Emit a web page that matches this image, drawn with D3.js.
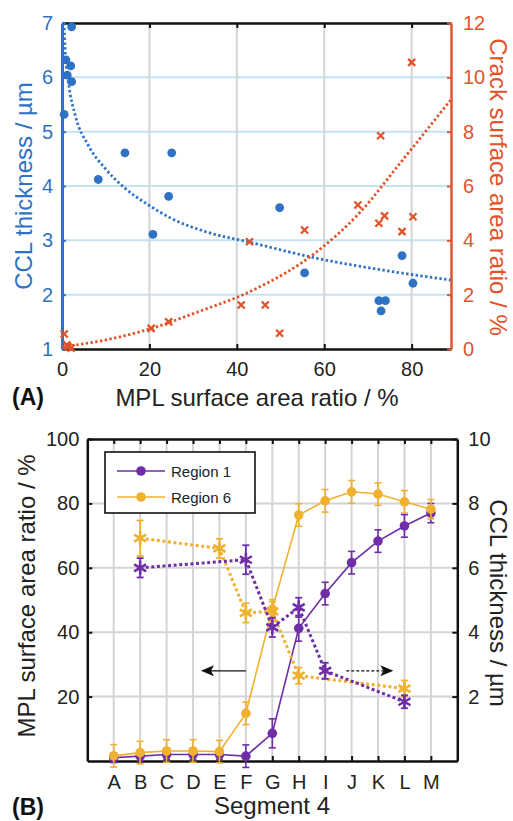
<!DOCTYPE html>
<html><head><meta charset="utf-8">
<script src="https://cdn.jsdelivr.net/npm/d3@7"></script>
<style>body{margin:0;background:#fff} svg{display:block;font-family:"Liberation Sans",Arial,sans-serif}</style>
</head><body><svg id="c" width="513" height="821"></svg>
<script>
// ---------- Panel A data ----------
const mplForCcl = [2.2,0.9,2.0,1.2,2.2,0.5,8.3,14.4,25.1,24.4,20.8,49.8,55.5,72.5,74.0,73.0,77.8,80.3];
const cclThickness = [6.93,6.32,6.21,6.04,5.92,5.32,4.12,4.61,4.61,3.81,3.11,3.60,2.40,1.89,1.89,1.70,2.72,2.21];
const mplForCrack = [80.0,72.9,67.7,73.8,72.5,80.3,77.8,55.5,46.5,49.8,42.9,41.0,24.4,20.4,0.5,1.1,2.1,1.4];
const crackRatio = [10.55,7.85,5.30,4.90,4.63,4.87,4.32,4.38,1.62,0.58,3.95,1.62,1.00,0.76,0.55,0.15,0.03,0.08];
const cclFitX = [0.46,0.7,1.45,3.0,6.0,9.9,14.4,19.8,25.1,32.8,42.7,58.3,73.6,88.9];
const cclFitY = [7.0,6.53,5.92,5.31,4.75,4.32,3.96,3.65,3.40,3.16,2.97,2.67,2.45,2.27];
const crackFitX = [0,9.9,20.5,30.5,43.5,58.3,68.3,77.4,88.9];
const crackFitY = [0.08,0.33,0.76,1.33,2.15,3.58,5.05,6.85,9.16];
const xTicksA = [0,20,40,60,80];
const yTicksA = [1,2,3,4,5,6,7];
const y2TicksA = [0,2,4,6,8,10,12];

// ---------- Panel B data ----------
const segments = ["A","B","C","D","E","F","G","H","I","J","K","L","M"];
const region1Mpl = [1.0,1.5,2.0,2.0,2.0,1.5,8.6,41.2,52.0,61.6,68.3,73.0,77.0];
const region1MplErr = [1.5,1.5,1.5,1.5,1.5,3.5,4.5,4,3.5,3.5,3.5,3.5,3];
const region6Mpl = [1.6,2.6,3.1,3.1,2.9,14.8,47.1,76.4,80.8,83.6,82.9,80.5,78.2];
const region6MplErr = [3.5,3.5,3.5,3.5,3.5,3.5,3,3.5,3.5,3.5,3.5,3.5,3];
const region1CclSeg = ["B","F","G","H","I","L"];
const region1Ccl = [6.0,6.25,4.15,4.77,2.8,1.84];
const region1CclErr = [0.3,0.45,0.3,0.3,0.25,0.2];
const region6CclSeg = ["B","E","F","G","H","L"];
const region6Ccl = [6.92,6.6,4.6,4.65,2.65,2.25];
const region6CclErr = [0.55,0.3,0.3,0.3,0.25,0.25];
const yTicksB = [20,40,60,80,100];
const y2TicksB = [2,4,6,8,10];

// ---------- styles ----------
const BLUE = "#2f72c4", RED = "#e2532b", PURPLE = "#6f2da8", GOLD = "#f0b030";
const GRIDBLUE = "#c6e3f3", GRIDGRAY = "#d4d4d4";
const TICKFS = 20, LABFS = 24;

const svg = d3.select("#c");
svg.append("rect").attr("width",513).attr("height",821).attr("fill","#fff");

function styleAxis(g, color, width, fs) {
  g.select(".domain").attr("stroke", color).attr("stroke-width", width);
  g.selectAll(".tick line").attr("stroke", color).attr("stroke-width", 2);
  g.selectAll(".tick text").attr("fill", color).attr("font-size", fs).attr("font-family","Liberation Sans, Arial, sans-serif");
}

// ================= PANEL A =================
const xA = d3.scaleLinear().domain([0,89]).range([62,451]);
const yA = d3.scaleLinear().domain([1,7]).range([349,23]);
const yA2 = d3.scaleLinear().domain([0,12]).range([349,23]);
const gA = svg.append("g");
const fmtInt = d3.format("d");

gA.append("defs").append("clipPath").attr("id","clipA").append("rect")
  .attr("x",62).attr("y",23).attr("width",389).attr("height",326);

// grids
gA.append("g").selectAll("line").data(yTicksA.filter(d=>d>1&&d<7)).join("line")
  .attr("x1",xA(0)).attr("x2",xA(89)).attr("y1",d=>yA(d)).attr("y2",d=>yA(d))
  .attr("stroke",GRIDBLUE).attr("stroke-width",2);
gA.append("g").selectAll("line").data(xTicksA.filter(d=>d>0)).join("line")
  .attr("x1",d=>xA(d)).attr("x2",d=>xA(d)).attr("y1",yA(1)).attr("y2",yA(7))
  .attr("stroke",GRIDGRAY).attr("stroke-width",2);

// axes
const axTopA = gA.append("g").attr("transform",`translate(0,${yA(7)})`)
  .call(d3.axisTop(xA).tickValues([20,40,60,80]).tickSizeInner(-5).tickSizeOuter(0).tickFormat(""));
styleAxis(axTopA,"#111",2.5,TICKFS);
const axBotA = gA.append("g").attr("transform",`translate(0,${yA(1)})`)
  .call(d3.axisBottom(xA).tickValues(xTicksA).tickSizeInner(-5).tickSizeOuter(0).tickPadding(13).tickFormat(fmtInt));
styleAxis(axBotA,"#111",2.5,TICKFS);
axBotA.selectAll(".tick text").attr("fill","#222");
const axLeftA = gA.append("g").attr("transform",`translate(${xA(0)},0)`)
  .call(d3.axisLeft(yA).tickValues(yTicksA).tickSizeInner(-4).tickSizeOuter(0).tickPadding(9).tickFormat(fmtInt));
styleAxis(axLeftA,BLUE,3,TICKFS);
const axRightA = gA.append("g").attr("transform",`translate(${xA(89)},0)`)
  .call(d3.axisRight(yA2).tickValues(y2TicksA).tickSizeInner(-4).tickSizeOuter(0).tickPadding(12).tickFormat(fmtInt));
styleAxis(axRightA,RED,2.5,TICKFS);

// fit lines
const lineA = d3.line().curve(d3.curveMonotoneX);
gA.append("path").attr("clip-path","url(#clipA)")
  .attr("d", lineA(cclFitX.map((x,i)=>[xA(x), yA(cclFitY[i])])))
  .attr("fill","none").attr("stroke",BLUE).attr("stroke-width",2.8).attr("stroke-dasharray","2.4,2.4");
gA.append("path").attr("clip-path","url(#clipA)")
  .attr("d", lineA(crackFitX.map((x,i)=>[xA(x), yA2(crackFitY[i])])))
  .attr("fill","none").attr("stroke",RED).attr("stroke-width",2.8).attr("stroke-dasharray","2.4,2.4");

// points
gA.append("g").selectAll("circle").data(mplForCcl).join("circle")
  .attr("cx",d=>xA(d)).attr("cy",(d,i)=>yA(cclThickness[i])).attr("r",4.4).attr("fill",BLUE);
gA.append("g").selectAll("path").data(mplForCrack).join("path")
  .attr("transform",(d,i)=>`translate(${xA(d)},${yA2(crackRatio[i])})`)
  .attr("d","M-3.5,-3.5L3.5,3.5M-3.5,3.5L3.5,-3.5")
  .attr("stroke",RED).attr("stroke-width",2.3).attr("fill","none");

// labels
gA.append("text").attr("transform",`translate(32,186) rotate(-90)`).attr("text-anchor","middle")
  .attr("font-size",LABFS).attr("fill",BLUE).text("CCL thickness / µm");
gA.append("text").attr("transform",`translate(490,187) rotate(90)`).attr("text-anchor","middle")
  .attr("font-size",LABFS).attr("fill",RED).text("Crack surface area ratio / %");
gA.append("text").attr("x",257).attr("y",406).attr("text-anchor","middle")
  .attr("font-size",LABFS).attr("fill","#222").text("MPL surface area ratio / %");
gA.append("text").attr("x",12).attr("y",405).attr("font-size",23).attr("font-weight","bold")
  .attr("fill","#111").text("(A)");

// ================= PANEL B =================
const xB = d3.scalePoint().domain(segments).range([87.3,457.3]).padding(1);
const yB = d3.scaleLinear().domain([0,100]).range([761,439]);
const yB2 = d3.scaleLinear().domain([0,10]).range([761,439]);
const gB = svg.append("g");

gB.append("g").selectAll("line").data(yTicksB.filter(d=>d<100)).join("line")
  .attr("x1",xB.range()[0]).attr("x2",xB.range()[1]).attr("y1",d=>yB(d)).attr("y2",d=>yB(d))
  .attr("stroke",GRIDGRAY).attr("stroke-width",2);
gB.append("g").selectAll("line").data(segments).join("line")
  .attr("x1",d=>xB(d)).attr("x2",d=>xB(d)).attr("y1",yB(0)).attr("y2",yB(100))
  .attr("stroke",GRIDGRAY).attr("stroke-width",2);

const axTopB = gB.append("g").attr("transform",`translate(0,${yB(100)})`)
  .call(d3.axisTop(xB).tickSizeInner(-5).tickSizeOuter(0).tickFormat(""));
styleAxis(axTopB,"#111",2.5,TICKFS);
const axBotB = gB.append("g").attr("transform",`translate(0,${yB(0)})`)
  .call(d3.axisBottom(xB).tickSizeInner(-5).tickSizeOuter(0).tickPadding(14));
styleAxis(axBotB,"#111",2.5,TICKFS);
axBotB.selectAll(".tick text").attr("fill","#222");
const axLeftB = gB.append("g").attr("transform",`translate(${xB.range()[0]},0)`)
  .call(d3.axisLeft(yB).tickValues(yTicksB).tickSizeInner(-5).tickSizeOuter(0).tickPadding(8).tickFormat(fmtInt));
styleAxis(axLeftB,"#111",2.5,TICKFS);
axLeftB.selectAll(".tick text").attr("fill","#222");
const axRightB = gB.append("g").attr("transform",`translate(${xB.range()[1]},0)`)
  .call(d3.axisRight(yB2).tickValues(y2TicksB).tickSizeInner(-5).tickSizeOuter(0).tickPadding(11).tickFormat(fmtInt));
styleAxis(axRightB,"#111",2.5,TICKFS);
axRightB.selectAll(".tick text").attr("fill","#222");

// solid series with error bars
function solidSeries(vals, errs, color) {
  const g = gB.append("g");
  g.append("path").attr("d", d3.line()(segments.map((s,i)=>[xB(s), yB(vals[i])])))
    .attr("fill","none").attr("stroke",color).attr("stroke-width",1.6);
  const eb = g.append("g").selectAll("g").data(segments).join("g");
  eb.append("line").attr("x1",d=>xB(d)).attr("x2",d=>xB(d))
    .attr("y1",(d,i)=>yB(vals[i]-errs[i])).attr("y2",(d,i)=>yB(vals[i]+errs[i]))
    .attr("stroke",color).attr("stroke-width",1.6);
  [-1,1].forEach(sg=>{
    eb.append("line").attr("x1",d=>xB(d)-3.5).attr("x2",d=>xB(d)+3.5)
      .attr("y1",(d,i)=>yB(vals[i]+sg*errs[i])).attr("y2",(d,i)=>yB(vals[i]+sg*errs[i]))
      .attr("stroke",color).attr("stroke-width",1.6);
  });
  g.append("g").selectAll("circle").data(segments).join("circle")
    .attr("cx",d=>xB(d)).attr("cy",(d,i)=>yB(vals[i])).attr("r",4.8).attr("fill",color);
}
const ASTER = "M0,-7L0,7M-6,-3.5L6,3.5M-6,3.5L6,-3.5";
function dottedSeries(segs, vals, errs, color) {
  const g = gB.append("g");
  g.append("path").attr("d", d3.line()(segs.map((s,i)=>[xB(s), yB2(vals[i])])))
    .attr("fill","none").attr("stroke",color).attr("stroke-width",3).attr("stroke-dasharray","3,2.6");
  const eb = g.append("g").selectAll("g").data(segs).join("g");
  eb.append("line").attr("x1",d=>xB(d)).attr("x2",d=>xB(d))
    .attr("y1",(d,i)=>yB2(vals[i]-errs[i])).attr("y2",(d,i)=>yB2(vals[i]+errs[i]))
    .attr("stroke",color).attr("stroke-width",1.8);
  [-1,1].forEach(sg=>{
    eb.append("line").attr("x1",d=>xB(d)-3.5).attr("x2",d=>xB(d)+3.5)
      .attr("y1",(d,i)=>yB2(vals[i]+sg*errs[i])).attr("y2",(d,i)=>yB2(vals[i]+sg*errs[i]))
      .attr("stroke",color).attr("stroke-width",1.8);
  });
  g.append("g").selectAll("path").data(segs).join("path")
    .attr("transform",(d,i)=>`translate(${xB(d)},${yB2(vals[i])})`)
    .attr("d",ASTER).attr("stroke",color).attr("stroke-width",2.6).attr("fill","none");
}
solidSeries(region1Mpl, region1MplErr, PURPLE);
solidSeries(region6Mpl, region6MplErr, GOLD);
dottedSeries(region6CclSeg, region6Ccl, region6CclErr, GOLD);
dottedSeries(region1CclSeg, region1Ccl, region1CclErr, PURPLE);

// arrows
const step = xB.step();
const ay = yB(28);
{
  const x1 = xB("F"), x2 = xB("D") + step*0.3;
  gB.append("line").attr("x1",x1).attr("x2",x2+10).attr("y1",ay).attr("y2",ay).attr("stroke","#111").attr("stroke-width",1.3);
  gB.append("path").attr("d",`M${x2},${ay}L${x2+13},${ay-5.5}L${x2+10},${ay}L${x2+13},${ay+5.5}Z`).attr("fill","#111");
}
{
  const x1 = xB("J") - step*0.2, x2 = xB("K") + step*0.58;
  gB.append("line").attr("x1",x1).attr("x2",x2-10).attr("y1",ay).attr("y2",ay).attr("stroke","#111").attr("stroke-width",1.3).attr("stroke-dasharray","3,2");
  gB.append("path").attr("d",`M${x2},${ay}L${x2-13},${ay-5.5}L${x2-10},${ay}L${x2-13},${ay+5.5}Z`).attr("fill","#111");
}

// legend
const leg = gB.append("g");
leg.append("rect").attr("x",105).attr("y",452).attr("width",150).attr("height",61)
  .attr("fill","#fff").attr("stroke","#111").attr("stroke-width",1.6);
[["Region 1",PURPLE,471],["Region 6",GOLD,497]].forEach(([t,c,y])=>{
  leg.append("line").attr("x1",117).attr("x2",165).attr("y1",y).attr("y2",y).attr("stroke",c).attr("stroke-width",1.6);
  leg.append("circle").attr("cx",141).attr("cy",y).attr("r",4.8).attr("fill",c);
  leg.append("text").attr("x",171).attr("y",y+5.5).attr("font-size",15).attr("fill","#222").text(t);
});

// labels
gB.append("text").attr("transform",`translate(35,596) rotate(-90)`).attr("text-anchor","middle")
  .attr("font-size",LABFS).attr("fill","#222").text("MPL surface area ratio / %");
gB.append("text").attr("transform",`translate(490,603) rotate(90)`).attr("text-anchor","middle")
  .attr("font-size",LABFS).attr("fill","#222").text("CCL thickness / µm");
gB.append("text").attr("x",272).attr("y",814).attr("text-anchor","middle")
  .attr("font-size",LABFS).attr("fill","#222").text("Segment 4");
gB.append("text").attr("x",12).attr("y",815).attr("font-size",23).attr("font-weight","bold")
  .attr("fill","#111").text("(B)");
</script></body></html>
